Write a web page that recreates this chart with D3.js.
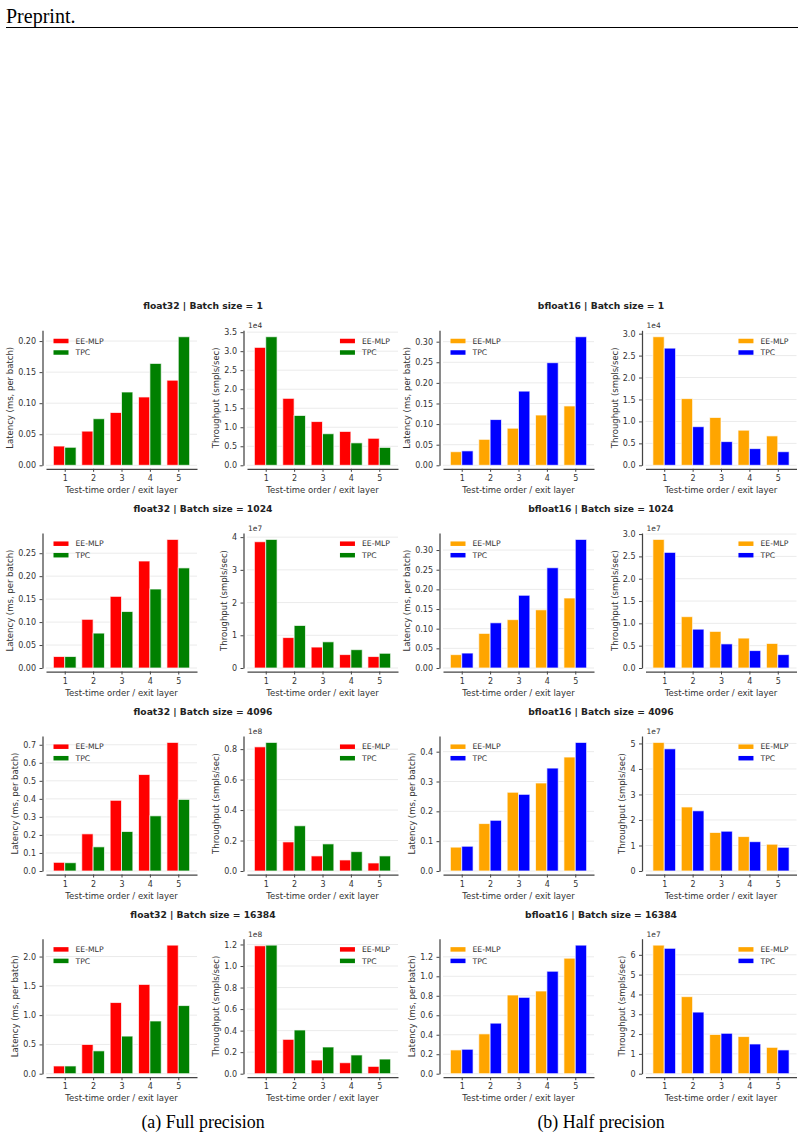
<!DOCTYPE html>
<html>
<head>
<meta charset="utf-8">
<script src="https://cdn.jsdelivr.net/npm/d3@7"></script>
<style>
  body { margin: 0; background: #fff; }
  svg { display: block; }
  .tick text { fill: #333; }
</style>
</head>
<body>
<div id="chart"></div>
<script>

var categories = ["1", "2", "3", "4", "5"];
var models = ["EE-MLP", "TPC"];
var batchSizes = [1, 1024, 4096, 16384];

// one row per batch size, one value per exit layer
var f32LatencyEE = [
	[0.031, 0.055, 0.085, 0.110, 0.137],
	[0.025, 0.106, 0.156, 0.233, 0.280],
	[0.048, 0.206, 0.392, 0.535, 0.713],
	[0.132, 0.499, 1.215, 1.524, 2.195]
];
var f32LatencyTPC = [
	[0.029, 0.075, 0.118, 0.164, 0.207],
	[0.025, 0.076, 0.123, 0.172, 0.218],
	[0.046, 0.134, 0.219, 0.306, 0.397],
	[0.132, 0.390, 0.642, 0.900, 1.163]
];
var f32ThroughputEE = [
	[3.10e4, 1.76e4, 1.15e4, 0.89e4, 0.71e4],
	[3.86e7, 0.93e7, 0.64e7, 0.41e7, 0.35e7],
	[0.815e8, 0.191e8, 0.099e8, 0.0725e8, 0.0527e8],
	[1.188e8, 0.319e8, 0.127e8, 0.102e8, 0.068e8]
];
var f32ThroughputTPC = [
	[3.38e4, 1.31e4, 0.83e4, 0.59e4, 0.47e4],
	[3.93e7, 1.30e7, 0.80e7, 0.56e7, 0.45e7],
	[0.844e8, 0.297e8, 0.178e8, 0.127e8, 0.099e8],
	[1.194e8, 0.406e8, 0.248e8, 0.174e8, 0.136e8]
];
var bf16LatencyEE = [
	[0.033, 0.063, 0.090, 0.122, 0.144],
	[0.034, 0.088, 0.123, 0.148, 0.178],
	[0.080, 0.159, 0.264, 0.295, 0.382],
	[0.244, 0.409, 0.808, 0.849, 1.186]
];
var bf16LatencyTPC = [
	[0.035, 0.111, 0.180, 0.249, 0.312],
	[0.038, 0.115, 0.185, 0.255, 0.327],
	[0.083, 0.170, 0.257, 0.345, 0.431],
	[0.251, 0.519, 0.784, 1.052, 1.320]
];
var bf16ThroughputEE = [
	[2.93e4, 1.52e4, 1.09e4, 0.80e4, 0.67e4],
	[2.88e7, 1.15e7, 0.82e7, 0.67e7, 0.55e7],
	[5.04e7, 2.51e7, 1.51e7, 1.35e7, 1.05e7],
	[6.49e7, 3.89e7, 1.98e7, 1.875e7, 1.33e7]
];
var bf16ThroughputTPC = [
	[2.67e4, 0.88e4, 0.54e4, 0.38e4, 0.31e4],
	[2.59e7, 0.87e7, 0.54e7, 0.39e7, 0.30e7],
	[4.79e7, 2.36e7, 1.56e7, 1.15e7, 0.93e7],
	[6.33e7, 3.11e7, 2.04e7, 1.50e7, 1.20e7]
];

// tick labels as printed (throughput ticks are multiplied by the offset exponent)
var f32LatencyTicks = [
	["0.00", "0.05", "0.10", "0.15", "0.20"],
	["0.00", "0.05", "0.10", "0.15", "0.20", "0.25"],
	["0.0", "0.1", "0.2", "0.3", "0.4", "0.5", "0.6", "0.7"],
	["0.0", "0.5", "1.0", "1.5", "2.0"]
];
var f32ThroughputTicks = [
	["0.0", "0.5", "1.0", "1.5", "2.0", "2.5", "3.0", "3.5"],
	["0", "1", "2", "3", "4"],
	["0.0", "0.2", "0.4", "0.6", "0.8"],
	["0.0", "0.2", "0.4", "0.6", "0.8", "1.0", "1.2"]
];
var f32ThroughputExp = ["1e4", "1e7", "1e8", "1e8"];
var bf16LatencyTicks = [
	["0.00", "0.05", "0.10", "0.15", "0.20", "0.25", "0.30"],
	["0.00", "0.05", "0.10", "0.15", "0.20", "0.25", "0.30"],
	["0.0", "0.1", "0.2", "0.3", "0.4"],
	["0.0", "0.2", "0.4", "0.6", "0.8", "1.0", "1.2"]
];
var bf16ThroughputTicks = [
	["0.0", "0.5", "1.0", "1.5", "2.0", "2.5", "3.0"],
	["0.0", "0.5", "1.0", "1.5", "2.0", "2.5", "3.0"],
	["0", "1", "2", "3", "4", "5"],
	["0", "1", "2", "3", "4", "5", "6"]
];
var bf16ThroughputExp = ["1e4", "1e7", "1e7", "1e7"];

var f32Colors = ["#ff0000", "#008000"];
var bf16Colors = ["#ffa500", "#0000ff"];

var width = 804, height = 1139;
var font = "DejaVu Sans";
var colLeft = [46, 247, 443, 645.5];
var rowTop = [330.3, 533, 736, 938.7];
var axW = 151, axH = 135, offset = 3.5;

var svg = d3.select("#chart").append("svg")
	.attr("width", width)
	.attr("height", height)
	.style("font-family", font);

// page header
svg.append("text").attr("x", 6).attr("y", 23)
	.style("font-family", "Liberation Serif").style("font-size", "20px")
	.text("Preprint.");
svg.append("line").attr("x1", 6).attr("x2", 798).attr("y1", 27.5).attr("y2", 27.5)
	.attr("stroke", "#000").attr("stroke-width", 1);

function drawPanel(left, top, seriesA, seriesB, colors, tickLabels, exp, yLabel, legendRight) {
	var mult = exp ? +exp : 1;
	var ticks = tickLabels.map(function(t) { return parseFloat(t) * mult; });
	var maxV = d3.max(seriesA.concat(seriesB));

	var x = d3.scaleLinear().domain([-0.66, 4.66]).range([left, left + axW]);
	var y = d3.scaleLinear().domain([0, maxV * 1.05]).range([top + axH, top]);

	var g = svg.append("g");

	// grid
	g.selectAll(".grid").data(ticks).enter().append("line")
		.attr("x1", left).attr("x2", left + axW)
		.attr("y1", function(d) { return y(d); })
		.attr("y2", function(d) { return y(d); })
		.attr("stroke", "#ebebeb").attr("stroke-width", 1);

	// bars
	var bw = x(0.4) - x(0);
	[seriesA, seriesB].forEach(function(s, m) {
		g.selectAll(".bar" + m).data(s).enter().append("rect")
			.attr("x", function(d, i) { return x(i - 0.4 + m * 0.4); })
			.attr("y", function(d) { return y(d); })
			.attr("width", bw)
			.attr("height", function(d) { return y(0) - y(d); })
			.attr("fill", colors[m])
			.attr("stroke", "#fff").attr("stroke-opacity", 0.7).attr("stroke-width", 1);
	});

	// axes, pushed out from the data area
	var yAxis = g.append("g")
		.attr("transform", "translate(" + (left - offset) + ",0)")
		.call(d3.axisLeft(y).tickValues(ticks)
			.tickFormat(function(d, i) { return tickLabels[i]; })
			.tickSize(3).tickSizeOuter(0).tickPadding(3.5));
	var xAxis = g.append("g")
		.attr("transform", "translate(0," + (top + axH + offset) + ")")
		.call(d3.axisBottom(x).tickValues([0, 1, 2, 3, 4])
			.tickFormat(function(d, i) { return categories[i]; })
			.tickSize(3).tickSizeOuter(0).tickPadding(3.5));
	[yAxis, xAxis].forEach(function(a) {
		a.select(".domain").attr("stroke", "#444").attr("stroke-width", 1.25);
		a.selectAll(".tick line").attr("stroke", "#444").attr("stroke-width", 1);
		a.selectAll(".tick text").style("font-family", font).style("font-size", "8px").attr("fill", "#333");
	});

	// y label placed left of the widest tick label
	var minX = d3.min(yAxis.selectAll(".tick text").nodes(), function(n) {
		return left - offset - 6.5 - n.getComputedTextLength();
	});
	var ly = minX - 5, lyC = top + axH / 2;
	g.append("text")
		.attr("transform", "translate(" + ly + "," + lyC + ") rotate(-90)")
		.attr("text-anchor", "middle")
		.style("font-size", "8.5px").attr("fill", "#333")
		.text(yLabel);

	g.append("text")
		.attr("x", left + axW / 2).attr("y", top + axH + offset + 24)
		.attr("text-anchor", "middle")
		.style("font-size", "8.5px").attr("fill", "#333")
		.text("Test-time order / exit layer");

	if (exp) {
		g.append("text").attr("x", left + 1).attr("y", top - 2)
			.style("font-size", "7.5px").attr("fill", "#333").text(exp);
	}

	// legend
	var leg = g.append("g");
	var items = leg.selectAll("g").data(models).enter().append("g")
		.attr("transform", function(d, i) { return "translate(0," + (top + 10.7 + i * 11.5) + ")"; });
	items.append("rect").attr("x", 0).attr("y", -2.25).attr("width", 15).attr("height", 4.5)
		.attr("fill", function(d, i) { return colors[i]; });
	var txt = items.append("text").attr("x", 22).attr("dy", "0.35em")
		.style("font-size", "7.7px").attr("fill", "#333")
		.text(function(d) { return d; });
	var tw = d3.max(txt.nodes(), function(n) { return n.getComputedTextLength(); });
	var lx = legendRight ? (left + axW - 8 - tw - 22) : (left + 7.5);
	leg.attr("transform", "translate(" + lx + ",0)");
}

var halves = [
	{ name: "float32", center: 203, colors: f32Colors, lat: [f32LatencyEE, f32LatencyTPC], thr: [f32ThroughputEE, f32ThroughputTPC],
	  latTicks: f32LatencyTicks, thrTicks: f32ThroughputTicks, exp: f32ThroughputExp, caption: "(a) Full precision" },
	{ name: "bfloat16", center: 601, colors: bf16Colors, lat: [bf16LatencyEE, bf16LatencyTPC], thr: [bf16ThroughputEE, bf16ThroughputTPC],
	  latTicks: bf16LatencyTicks, thrTicks: bf16ThroughputTicks, exp: bf16ThroughputExp, caption: "(b) Half precision" }
];

halves.forEach(function(h, hi) {
	batchSizes.forEach(function(bs, r) {
		svg.append("text")
			.attr("x", h.center).attr("y", rowTop[r] - 21)
			.attr("text-anchor", "middle")
			.style("font-size", "9.2px").style("font-weight", "bold").attr("fill", "#222")
			.text(h.name + " | Batch size = " + bs);
		drawPanel(colLeft[hi * 2], rowTop[r], h.lat[0][r], h.lat[1][r], h.colors,
			h.latTicks[r], null, "Latency (ms, per batch)", false);
		drawPanel(colLeft[hi * 2 + 1], rowTop[r], h.thr[0][r], h.thr[1][r], h.colors,
			h.thrTicks[r], h.exp[r], "Throughput (smpls/sec)", true);
	});
	svg.append("text")
		.attr("x", h.center).attr("y", 1128)
		.attr("text-anchor", "middle")
		.style("font-family", "Liberation Serif").style("font-size", "17.9px")
		.text(h.caption);
});

</script>
</body>
</html>
